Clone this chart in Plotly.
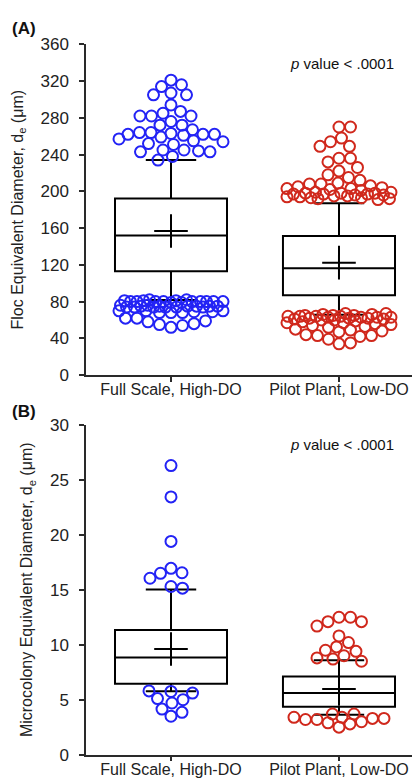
import plotly.graph_objects as go

# ---------------- data ----------------
categories = ["Full Scale, High-DO", "Pilot Plant, Low-DO"]

# Panel A: floc equivalent diameter (um)
a_q1 = [112.9, 87.0]
a_median = [151.8, 116.4]
a_q3 = [192.1, 151.5]
a_lower = [81.7, 65.8]
a_upper = [234.0, 187.0]
a_mean = [156.8, 122.4]

a_full_high = [321, 316, 314, 307, 305, 305, 294, 287, 285, 282, 282, 282, 276, 272, 272,
               267, 264, 264, 263, 262, 262, 262, 261, 259, 257, 255, 254, 252, 251, 245,
               245, 244, 243, 243, 238, 234]
a_full_low = [82, 82, 81, 81, 81, 80, 80, 80, 80, 80, 80, 80, 80, 80, 79, 79, 76, 76, 75, 75,
              75, 75, 75, 75, 74, 74, 74, 74, 74, 74, 70, 70, 70, 69, 69, 68, 68, 68,
              62, 62, 59, 58, 56, 55, 54, 52]
a_pilot_high = [270, 270, 258, 254, 249, 249, 236, 236, 232, 226, 222, 218, 215, 212, 209,
                208, 208, 206, 205, 204, 203, 203, 202, 201, 199, 199, 198, 198, 198, 197,
                197, 197, 196, 196, 195, 195, 194, 194, 193, 193, 192, 192, 191]
a_pilot_low = [67, 67, 66, 66, 65, 65, 65, 64, 64, 64, 64, 63, 63, 63, 63, 62, 62, 62, 61, 61,
               60, 60, 59, 58, 57, 57, 56, 55, 54, 53, 52, 50, 49, 48, 47, 44, 43, 43, 42, 39,
               35, 34]

# Panel B: microcolony equivalent diameter (um)
b_q1 = [6.45, 4.35]
b_median = [8.84, 5.62]
b_q3 = [11.33, 7.1]
b_lower = [5.77, 3.64]
b_upper = [15.03, 8.6]
b_mean = [9.61, 5.97]

b_full_high = [26.3, 23.45, 19.4, 16.95, 16.55, 16.5, 16.05, 15.3, 15.15]
b_full_low = [5.8, 5.75, 5.6, 5.1, 5.0, 4.7, 4.15, 3.85, 3.5]
b_pilot_high = [12.5, 12.5, 12.1, 12.1, 11.7, 10.8, 10.2, 9.8, 9.5, 9.4, 9.0, 8.8, 8.7, 8.5]
b_pilot_low = [3.7, 3.7, 3.4, 3.4, 3.3, 3.3, 3.2, 3.2, 3.0, 2.9, 2.8, 2.5]

a_ticks = [0, 40, 80, 120, 160, 200, 240, 280, 320, 360]
b_ticks = [0, 5, 10, 15, 20, 25, 30]

# ---------------- styling ----------------
BLUE = "#2323f5"
RED = "#d0281c"
AXC = "#2a2a2a"
FONT = "Liberation Sans, Arial, sans-serif"

W, H = 420, 784
XDOM = [78 / W, 418 / W]
A_DOM = [1 - 367 / H, 1 - 28 / H]
B_DOM = [1 - 756 / H, 1 - 418 / H]
XR = [-0.506, 1.518]
PX_PER_X = (418 - 78) / (XR[1] - XR[0])
BOX_W = 0.667
LIMIT_PX = BOX_W * PX_PER_X / 2 - 4
DIAM = 11.5


def swarm(vals, px_per_y, upward):
    """Beeswarm limited to the box width; overlaps minimally when it must."""
    order = sorted(range(len(vals)), key=lambda i: vals[i], reverse=upward)
    n_steps = int(LIMIT_PX / 0.5)
    cands = [0.0]
    for k in range(1, n_steps + 1):
        cands += [k * 0.5, -k * 0.5]
    placed = []
    offs = [0.0] * len(vals)
    for i in order:
        y = vals[i] * px_per_y
        near = [(px, py) for px, py in placed if abs(py - y) < DIAM]
        best, best_d = None, -1.0
        for x in cands:
            dmin = min((((x - px) ** 2 + (y - py) ** 2) ** 0.5 for px, py in near),
                       default=1e9)
            if dmin >= DIAM:
                best = x
                break
            if dmin > best_d + 1e-9:
                best, best_d = x, dmin
        placed.append((best, y))
        offs[i] = best / PX_PER_X
    return offs


fig = go.Figure()


def add_panel(xa, ya, q1, med, q3, lo, up, mean, groups, px_per_y):
    for i in range(2):
        fig.add_trace(go.Box(
            x=[i], q1=[q1[i]], median=[med[i]], q3=[q3[i]],
            lowerfence=[lo[i]], upperfence=[up[i]],
            width=BOX_W, whiskerwidth=0.45,
            fillcolor="rgba(0,0,0,0)", line=dict(color="black", width=2),
            boxpoints=False, xaxis=xa, yaxis=ya, showlegend=False, hoverinfo="skip"))
    fig.add_trace(go.Scatter(
        x=[0, 1], y=mean, mode="markers", xaxis=xa, yaxis=ya, showlegend=False,
        marker=dict(symbol="cross-thin", size=24, color="black",
                    line=dict(color="black", width=2))))
    for vals, cat, color, upward in groups:
        offs = swarm(vals, px_per_y, upward)
        fig.add_trace(go.Scatter(
            x=[cat + o for o in offs], y=vals, mode="markers", xaxis=xa, yaxis=ya,
            showlegend=False,
            marker=dict(symbol="circle-open", size=11, color=color,
                        line=dict(color=color, width=2))))


add_panel("x", "y", a_q1, a_median, a_q3, a_lower, a_upper, a_mean,
          [(a_full_high, 0, BLUE, True), (a_full_low, 0, BLUE, False),
           (a_pilot_high, 1, RED, True), (a_pilot_low, 1, RED, False)],
          339 / 360)
add_panel("x2", "y2", b_q1, b_median, b_q3, b_lower, b_upper, b_mean,
          [(b_full_high, 0, BLUE, True), (b_full_low, 0, BLUE, False),
           (b_pilot_high, 1, RED, True), (b_pilot_low, 1, RED, False)],
          338 / 30)

xcommon = dict(range=XR, tickvals=[0, 1], ticktext=categories, showline=True,
               linecolor=AXC, linewidth=1.5, ticks="outside", ticklen=5, tickwidth=1.5,
               tickcolor=AXC, showgrid=False, zeroline=False, domain=XDOM,
               tickfont=dict(size=16, color="#222"), fixedrange=True,
               ticklabelstandoff=-6)
ycommon = dict(showline=True, linecolor=AXC, linewidth=1.5, ticks="outside", ticklen=5,
               tickwidth=1.5, tickcolor=AXC, showgrid=False, zeroline=False,
               tickfont=dict(size=17, color="#222"), fixedrange=True,
               ticklabelstandoff=7)

fig.update_layout(
    width=W, height=H, margin=dict(l=0, r=0, t=0, b=0),
    paper_bgcolor="white", plot_bgcolor="white",
    font=dict(family=FONT, color="#222"),
    boxmode="overlay",
    xaxis=dict(anchor="y", **xcommon),
    xaxis2=dict(anchor="y2", **xcommon),
    yaxis=dict(anchor="x", domain=A_DOM, range=[0, 360], tickvals=a_ticks,
               title=dict(text="Floc Equivalent Diameter, d<sub>e</sub> (μm)",
                          font=dict(size=16), standoff=13), **ycommon),
    yaxis2=dict(anchor="x2", domain=B_DOM, range=[0, 30], tickvals=b_ticks,
                title=dict(text="Microcolony Equivalent Diameter, d<sub>e</sub> (μm)",
                           font=dict(size=16), standoff=13), **ycommon),
    annotations=[
        dict(text="<b>(A)</b>", x=2 / W, y=1 - 12 / H, xref="paper", yref="paper",
             xanchor="left", yanchor="middle", showarrow=False, font=dict(size=17, color="#111")),
        dict(text="<b>(B)</b>", x=2 / W, y=1 - 404 / H, xref="paper", yref="paper",
             xanchor="left", yanchor="middle", showarrow=False, font=dict(size=17, color="#111")),
        dict(text="<i>p</i> value < .0001", x=388 / W, y=1 - 48 / H, xref="paper",
             yref="paper", xanchor="right", yanchor="middle", showarrow=False,
             font=dict(size=15, color="#111")),
        dict(text="<i>p</i> value < .0001", x=388 / W, y=1 - 438 / H, xref="paper",
             yref="paper", xanchor="right", yanchor="middle", showarrow=False,
             font=dict(size=15, color="#111")),
    ],
)

fig.write_html("out.html")
